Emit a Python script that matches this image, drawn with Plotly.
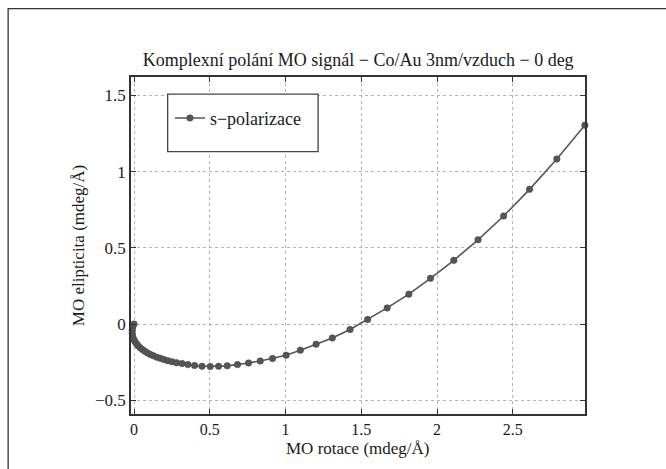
import plotly.graph_objects as go

# data
x_rot = [0.0, -0.008, -0.012, -0.012, -0.009, -0.003, 0.005, 0.015, 0.027, 0.040,
         0.055, 0.071, 0.089, 0.108, 0.128, 0.150, 0.173, 0.197, 0.223, 0.250,
         0.280, 0.317, 0.356, 0.400, 0.449, 0.503, 0.558, 0.615, 0.683, 0.756,
         0.833, 0.914, 1.004, 1.098, 1.202, 1.309, 1.426, 1.542, 1.671, 1.814,
         1.957, 2.111, 2.271, 2.440, 2.611, 2.791, 2.976]
y_elip = [0.0, -0.020, -0.040, -0.060, -0.080, -0.098, -0.113, -0.128, -0.142, -0.155,
          -0.167, -0.178, -0.189, -0.199, -0.208, -0.217, -0.225, -0.233, -0.240, -0.247,
          -0.253, -0.259, -0.266, -0.272, -0.277, -0.278, -0.277, -0.274, -0.266, -0.255,
          -0.242, -0.226, -0.204, -0.171, -0.132, -0.091, -0.036, 0.030, 0.106, 0.196,
          0.300, 0.418, 0.553, 0.709, 0.884, 1.083, 1.305]
x_ticks = [0, 0.5, 1, 1.5, 2, 2.5]
y_ticks = [-0.5, 0, 0.5, 1, 1.5]
series_name = "s\u2212polarizace"
title_text = "Komplexní polání MO signál \u2212 Co/Au 3nm/vzduch \u2212 0 deg"
x_title = "MO rotace (mdeg/Å)"
y_title = "MO elipticita (mdeg/Å)"

W, H = 666, 469
L, R, T, B = 131, 585.5, 77.3, 413.7
PW, PH = R - L, B - T

def px(xp):
    return (xp - L) / PW

def py(yp):
    return (B - yp) / PH

FONT = "Liberation Serif"
AX = "#333333"
TXT = "#1a1a1a"

fig = go.Figure()
fig.add_trace(go.Scatter(
    x=x_rot, y=y_elip, mode="lines+markers", name=series_name,
    line=dict(color="#555555", width=1.6),
    marker=dict(color="#555555", size=6.5, line=dict(color="#444444", width=0.5)),
    cliponaxis=False,
))

axis_common = dict(
    showline=True, linecolor=AX, linewidth=1.6, mirror="ticks",
    ticks="inside", ticklen=5, tickcolor=AX, tickwidth=1,
    showgrid=True, gridcolor="#b4b4b4", griddash="dot", gridwidth=1,
    zeroline=False, tickfont=dict(family=FONT, size=17, color=TXT),
)

fig.update_layout(
    width=W, height=H,
    margin=dict(l=L, r=W - R, t=T, b=H - B),
    paper_bgcolor="white", plot_bgcolor="white",
    font=dict(family=FONT, color=TXT),
    title=dict(text=title_text, x=(L + R) / 2 / W, xanchor="center",
               y=1 - 60 / H, yanchor="middle", yref="container",
               font=dict(family=FONT, size=18, color=TXT)),
    xaxis=dict(range=[-0.02, 2.977], tickvals=x_ticks,
               ticktext=[f"{v:g}" for v in x_ticks], ticklabelstandoff=0,
               **{**axis_common, "tickfont": dict(family=FONT, size=16, color=TXT)}),
    yaxis=dict(range=[-0.59, 1.621], tickvals=y_ticks,
               ticktext=[f"{v:g}".replace("-", "\u2212") for v in y_ticks],
               title=dict(text=y_title, standoff=6,
                          font=dict(family=FONT, size=17, color=TXT)),
               **axis_common),
    showlegend=True,
    legend=dict(x=px(170), y=py(100), xanchor="left", yanchor="top",
                bgcolor="rgba(0,0,0,0)", borderwidth=0,
                font=dict(family=FONT, size=18, color=TXT)),
    annotations=[dict(text=x_title, xref="paper", yref="paper",
                      x=0.5, y=py(448), xanchor="center", yanchor="middle",
                      showarrow=False, font=dict(family=FONT, size=17, color=TXT))],
)

# legend frame
fig.add_shape(type="rect", xref="paper", yref="paper",
              x0=px(167.7), x1=px(318.3), y0=py(151.7), y1=py(94.3),
              line=dict(color="#444444", width=1.3), fillcolor="white", layer="above")
# outer frame of the figure
fig.add_shape(type="rect", xref="paper", yref="paper",
              x0=px(8), x1=px(700), y0=py(500), y1=py(9),
              line=dict(color="#333333", width=1.3), fillcolor="rgba(0,0,0,0)", layer="below")

fig.write_html("out.html")
